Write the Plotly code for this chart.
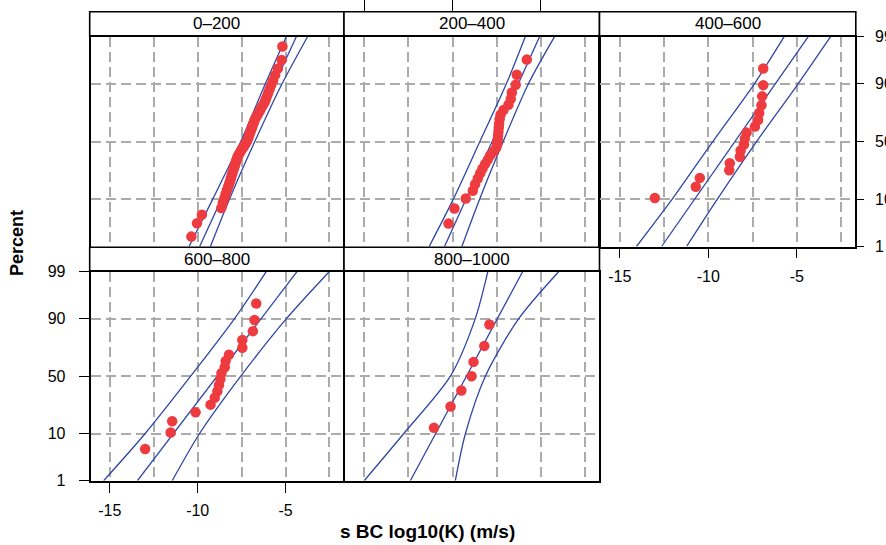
from statistics import NormalDist
import plotly.graph_objects as go

# ---- data -------------------------------------------------------------
panel_labels = ["0–200", "200–400", "400–600", "600–800", "800–1000"]

# sorted log10(K) values for each depth class
k_0_200 = [-10.36, -10.04, -9.76, -8.66, -8.57, -8.48, -8.41, -8.34, -8.27, -8.21,
           -8.15, -8.11, -8.06, -8.02, -7.97, -7.93, -7.89, -7.85, -7.81, -7.77,
           -7.73, -7.67, -7.60, -7.53, -7.45, -7.38, -7.31, -7.24, -7.18, -7.14,
           -7.10, -7.06, -7.02, -6.98, -6.93, -6.89, -6.85, -6.80, -6.76, -6.70,
           -6.62, -6.54, -6.46, -6.38, -6.29, -6.20, -6.13, -6.06, -5.99, -5.91,
           -5.82, -5.71, -5.59, -5.44, -5.22, -5.18]
k_200_400 = [-10.23, -9.89, -9.25, -8.85, -8.72, -8.57, -8.43, -8.30, -8.15, -8.00,
             -7.87, -7.68, -7.52, -7.47, -7.44, -7.42, -7.40, -7.38, -7.36, -7.33,
             -7.28, -7.11, -6.83, -6.70, -6.64, -6.42, -6.36, -5.79]
# the lowest 400–600 value falls left of the axis range
k_400_600 = [-17.0, -13.02, -10.71, -10.48, -8.82, -8.79, -8.22, -8.18, -7.99, -7.94,
             -7.84, -7.37, -7.19, -7.13, -7.00, -6.96, -6.90, -6.90]
k_600_800 = [-12.99, -11.54, -11.45, -10.12, -9.27, -9.03, -8.88, -8.79, -8.71, -8.65,
             -8.46, -8.41, -8.22, -7.46, -7.46, -6.86, -6.77, -6.67]
k_800_1000 = [-11.05, -10.11, -9.50, -8.92, -8.81, -8.20, -7.91]

# fitted normal line (at 1 % and 99 %) and confidence band (at band_pct)
fit_pct = [1, 99]
band_pct = [1, 10, 50, 90, 99]

fit_0_200 = [-9.89, -4.39]
lower_0_200 = [-10.49, -9.15, -7.55, -6.15, -4.96]
upper_0_200 = [-9.28, -8.20, -6.75, -5.20, -3.75]

fit_200_400 = [-10.45, -5.07]
lower_200_400 = [-11.32, -9.96, -8.45, -6.95, -5.88]
upper_200_400 = [-9.47, -8.47, -7.13, -5.70, -4.22]

fit_400_600 = [-12.64, -4.36]
lower_400_600 = [-14.06, -12.05, -9.75, -7.40, -5.72]
upper_400_600 = [-11.23, -9.50, -7.28, -4.93, -3.10]

fit_600_800 = [-13.43, -4.35]
lower_600_800 = [-15.35, -13.00, -10.40, -7.90, -6.10]
upper_600_800 = [-11.45, -9.90, -7.55, -4.95, -2.52]

fit_800_1000 = [-12.39, -6.03]
lower_800_1000 = [-15.00, -12.77, -10.12, -8.71, -8.00]
upper_800_1000 = [-9.84, -9.27, -8.14, -6.25, -3.99]

values = [k_0_200, k_200_400, k_400_600, k_600_800, k_800_1000]
fits = [fit_0_200, fit_200_400, fit_400_600, fit_600_800, fit_800_1000]
lowers = [lower_0_200, lower_200_400, lower_400_600, lower_600_800, lower_800_1000]
uppers = [upper_0_200, upper_200_400, upper_400_600, upper_600_800, upper_800_1000]

pct_ticks = [1, 10, 50, 90, 99]
pct_text = ["1", "10", "50", "90", "99"]
x_ticks = [-15, -10, -5]
x_text = ["-15", "-10", "-5"]
x_grid = [-15, -12.5, -10, -7.5, -5, -2.5]

# ---- helpers ----------------------------------------------------------
nd = NormalDist()


def z_of(pct):
    return nd.inv_cdf(pct / 100.0)


def plotting_positions(n):
    # i / (n + 1) positions on the normal quantile scale
    return [nd.inv_cdf(i / (n + 1)) for i in range(1, n + 1)]


W, H = 886, 545
FONT = "Liberation Sans, Arial, sans-serif"
RED = "#EE3B3F"
BLUE = "#2F46A6"
GRID = "#ABABAB"
LW = 1.6  # frame line width

# plot-area edges in pixels; neighbouring frames share one line
cols_px = [(90.5, 343.2), (344.8, 598.7), (600.3, 855.0)]
rows_px = [(36.7, 246.5), (271.7, 480.7)]
strip_top_px = [11.7, 247.3]
cells = [(0, 0), (0, 1), (0, 2), (1, 0), (1, 1)]

x_range = [-16.1, -1.72]
z_range = [z_of(1), z_of(99)]


def px_x(v):
    return v / W


def px_y(v):
    return 1 - v / H


fig = go.Figure()
layout = dict(width=W, height=H, margin=dict(l=0, r=0, t=0, b=0, autoexpand=False),
              paper_bgcolor="white", plot_bgcolor="white", showlegend=False,
              font=dict(family=FONT, size=16, color="black"))
shapes, annotations = [], []

for i, (row, col) in enumerate(cells):
    n = i + 1
    xa = "x" if n == 1 else f"x{n}"
    ya = "y" if n == 1 else f"y{n}"
    x0, x1 = cols_px[col]
    top, bot = rows_px[row]

    # fitted line and band
    fig.add_trace(go.Scatter(x=fits[i], y=[z_of(p) for p in fit_pct], mode="lines",
                             line=dict(color=BLUE, width=1.3), xaxis=xa, yaxis=ya,
                             hoverinfo="skip"))
    for band in (lowers[i], uppers[i]):
        fig.add_trace(go.Scatter(x=band, y=[z_of(p) for p in band_pct], mode="lines",
                                 line=dict(color=BLUE, width=1.3, shape="spline",
                                           smoothing=0.8),
                                 xaxis=xa, yaxis=ya, hoverinfo="skip"))
    # observations
    fig.add_trace(go.Scatter(x=values[i], y=plotting_positions(len(values[i])),
                             mode="markers", marker=dict(color=RED, size=10.5,
                                                         line=dict(width=0)),
                             xaxis=xa, yaxis=ya))

    show_x = (row, col) in [(1, 0), (0, 2)]
    show_y_left = (row, col) == (1, 0)
    show_y_right = (row, col) == (0, 2)

    grid = dict(showgrid=True, gridcolor=GRID, gridwidth=1.5, griddash="10px,5px")
    layout["xaxis" if n == 1 else f"xaxis{n}"] = dict(
        domain=[px_x(x0), px_x(x1)], anchor=ya, range=x_range, automargin=False,
        tickmode="array", tickvals=x_ticks, ticktext=x_text,
        ticks="outside" if show_x else "", ticklen=10,
        tickwidth=1.4, tickcolor="black", showticklabels=show_x,
        ticklabelstandoff=4, tickfont=dict(size=16),
        minor=dict(tickmode="array", tickvals=x_grid, ticks="", **grid), **grid,
        showline=True, mirror=True, linecolor="black", linewidth=LW,
        zeroline=False, fixedrange=True)
    layout["yaxis" if n == 1 else f"yaxis{n}"] = dict(
        domain=[px_y(bot), px_y(top)], anchor=xa, range=z_range, automargin=False,
        tickmode="array", tickvals=[z_of(p) for p in pct_ticks], ticktext=pct_text,
        side="right" if show_y_right else "left",
        ticks="outside" if (show_y_left or show_y_right) else "",
        ticklen=10 if show_y_left else 7, tickwidth=1.4, tickcolor="black",
        showticklabels=show_y_left or show_y_right,
        ticklabelstandoff=10 if show_y_left else 8, tickfont=dict(size=16), **grid,
        showline=True, mirror=True, linecolor="black", linewidth=LW,
        zeroline=False, fixedrange=True)

    # strip with the depth class
    s_top = strip_top_px[row]
    s_bot = top - LW / 2
    shapes.append(dict(type="rect", xref="paper", yref="paper",
                       x0=px_x(x0 - LW / 2), x1=px_x(x1 + LW / 2),
                       y0=px_y(s_bot), y1=px_y(s_top),
                       line=dict(color="black", width=LW), fillcolor="white",
                       layer="above"))
    annotations.append(dict(text=panel_labels[i], xref="paper", yref="paper",
                            x=px_x((x0 + x1) / 2), y=px_y((s_top + s_bot) / 2),
                            xanchor="center", yanchor="middle", showarrow=False,
                            font=dict(size=17, color="black", family=FONT)))

# top tick marks for the middle column, above its strip
layout["xaxis6"] = dict(overlaying="x2", anchor="free", automargin=False,
                        position=px_y(strip_top_px[0]), side="top",
                        range=x_range, tickmode="array", tickvals=x_ticks,
                        ticks="outside", ticklen=14, tickwidth=1.4, tickcolor="black",
                        showticklabels=False, showgrid=False, showline=False,
                        zeroline=False, fixedrange=True)
fig.add_trace(go.Scatter(x=[None], y=[None], xaxis="x6", yaxis="y2",
                         hoverinfo="skip", mode="markers"))

annotations.append(dict(text="<b>Percent</b>", xref="paper", yref="paper",
                        x=px_x(17), y=px_y(243), textangle=-90, showarrow=False,
                        xanchor="center", yanchor="middle",
                        font=dict(size=18, color="black", family=FONT)))
annotations.append(dict(text="<b>s BC log10(K) (m/s)</b>", xref="paper", yref="paper",
                        x=px_x(427), y=px_y(531), showarrow=False,
                        xanchor="center", yanchor="middle",
                        font=dict(size=19, color="black", family=FONT)))

layout["shapes"] = shapes
layout["annotations"] = annotations
fig.update_layout(**layout)
fig.write_html("out.html")
